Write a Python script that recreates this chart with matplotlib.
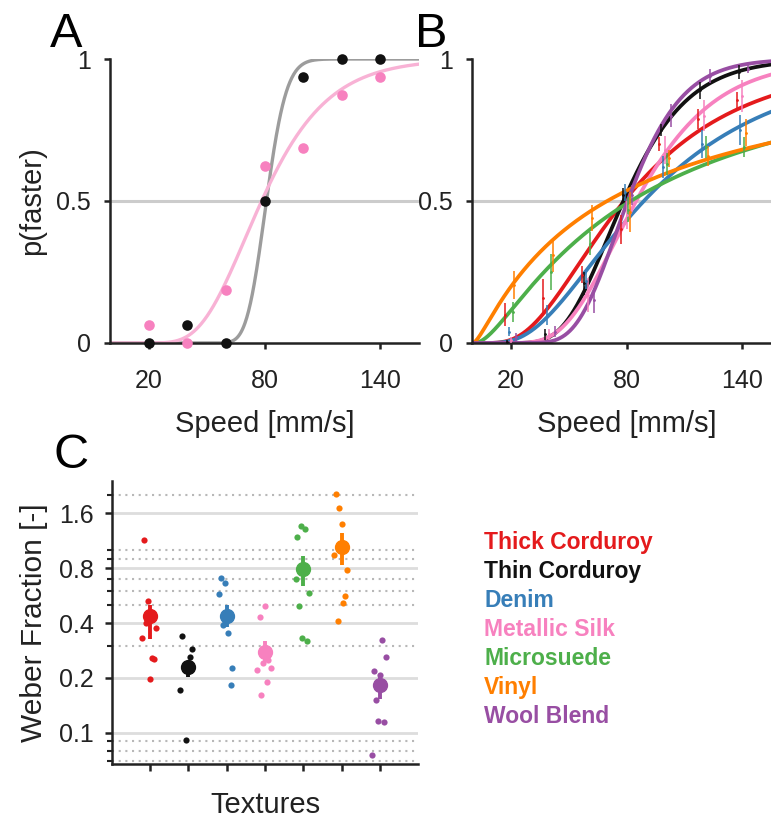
import math
import numpy as np
import matplotlib
matplotlib.use("Agg")
import matplotlib.pyplot as plt

plt.rcParams["font.family"] = ["Liberation Sans", "DejaVu Sans"]

# ====== DATA ======
textures = ["Thick Corduroy", "Thin Corduroy", "Denim", "Metallic Silk",
            "Microsuede", "Vinyl", "Wool Blend"]
tex_colors = ["#e41a1c", "#111111", "#377eb8", "#f781bf",
              "#4daf4a", "#ff7f00", "#984ea3"]

speeds = [20, 40, 60, 80, 100, 120, 140]

# panel A: single subject, two textures
a_black = [0.0, 0.0625, 0.0, 0.5, 0.9375, 1.0, 1.0]
a_pink = [0.0625, 0.0, 0.1875, 0.625, 0.6875, 0.875, 0.9375]
a_black_fit = (81.0, 0.10)    # (PSE, sigma of log-normal)
a_pink_fit = (78.5, 0.34)

# panel B: group mean p(faster) and half error bar per texture
b_mean = [
    [0.10, 0.16, 0.24, 0.40, 0.70, 0.79, 0.855],
    [0.005, 0.03, 0.21, 0.52, 0.75, 0.89, 0.955],
    [0.04, 0.10, 0.22, 0.53, 0.62, 0.70, 0.75],
    [0.01, 0.03, 0.17, 0.45, 0.68, 0.80, 0.87],
    [0.11, 0.25, 0.35, 0.47, 0.63, 0.69, 0.69],
    [0.205, 0.31, 0.44, 0.46, 0.65, 0.66, 0.74],
    [0.02, 0.04, 0.15, 0.52, 0.80, 0.94, 0.965],
]
b_err = [
    [0.04, 0.065, 0.03, 0.05, 0.025, 0.035, 0.03],
    [0.005, 0.02, 0.04, 0.025, 0.02, 0.03, 0.025],
    [0.017, 0.035, 0.03, 0.03, 0.04, 0.05, 0.053],
    [0.01, 0.02, 0.06, 0.05, 0.05, 0.055, 0.057],
    [0.035, 0.065, 0.04, 0.045, 0.04, 0.04, 0.035],
    [0.05, 0.06, 0.045, 0.07, 0.03, 0.035, 0.047],
    [0.015, 0.02, 0.045, 0.035, 0.04, 0.025, 0.015],
]
b_pse = [78.8, 78.4, 89.0, 85.0, 82.2, 70.0, 80.6]
b_sigma = [0.60, 0.33, 0.62, 0.375, 1.17, 1.47, 0.27]

# panel C: Weber fractions per subject
c_subjects = [
    [1.134, 0.526, 0.40, 0.374, 0.333, 0.258, 0.253, 0.197],
    [0.34, 0.287, 0.262, 0.22, 0.23, 0.226, 0.171, 0.092],
    [0.705, 0.659, 0.577, 0.40, 0.388, 0.351, 0.227, 0.182],
    [0.498, 0.43, 0.252, 0.243, 0.228, 0.222, 0.189, 0.161],
    [1.36, 1.31, 1.18, 0.70, 0.584, 0.493, 0.331, 0.319],
    [2.04, 1.71, 1.387, 0.939, 0.783, 0.565, 0.515, 0.409],
    [0.324, 0.262, 0.218, 0.209, 0.152, 0.117, 0.115, 0.0755],
]
c_jitter = [
    [-0.16, -0.04, -0.10, 0.15, -0.20, 0.04, 0.10, 0.0],
    [-0.16, 0.10, 0.04, -0.10, 0.10, 0.05, -0.21, -0.05],
    [-0.15, -0.04, -0.21, -0.05, -0.10, 0.04, 0.15, 0.10],
    [0.0, -0.14, 0.09, -0.04, 0.15, -0.21, 0.04, -0.10],
    [-0.06, 0.05, -0.16, -0.20, 0.15, -0.10, -0.03, 0.09],
    [-0.16, -0.06, 0.0, -0.21, 0.14, 0.10, 0.04, -0.10],
    [0.04, 0.15, -0.16, 0.0, -0.11, -0.06, 0.10, -0.21],
]
c_mean = [0.437, 0.229, 0.437, 0.279, 0.79, 1.04, 0.184]
c_lo = [0.328, 0.202, 0.38, 0.245, 0.635, 0.827, 0.154]
c_hi = [0.504, 0.245, 0.50, 0.319, 0.927, 1.25, 0.21]
# ==================

W, H = 771, 818
TXT = "#222222"
TICK_FS = 18
LABEL_FS = 21
_erf = np.vectorize(math.erf)


def lognorm_cdf(x, pse, sigma):
    z = np.log(x / pse) / sigma
    return 0.5 * (1 + _erf(z / math.sqrt(2)))


def px_axes(fig, left, top, right, bottom):
    return fig.add_axes([left / W, 1 - bottom / H, (right - left) / W, (bottom - top) / H])


def style_axes(ax, labelsize=TICK_FS):
    for s in ["top", "right"]:
        ax.spines[s].set_visible(False)
    for s in ["left", "bottom"]:
        ax.spines[s].set_linewidth(1.8)
        ax.spines[s].set_color(TXT)
    ax.tick_params(direction="out", length=4, width=1.8, color=TXT,
                   labelsize=labelsize, labelcolor=TXT)


def psycho_axes(ax, ylabel=True):
    style_axes(ax)
    ax.set_xlim(0, 160)
    ax.set_ylim(0, 1)
    ax.set_xticks([20, 80, 140])
    ax.set_yticks([0, 0.5, 1])
    ax.set_yticklabels(["0", "0.5", "1"])
    ax.tick_params(axis="x", pad=15)
    ax.tick_params(axis="y", pad=10)
    ax.axhline(0.5, color="#cccccc", lw=2.2, zorder=0)
    ax.set_xlabel("Speed [mm/s]", fontsize=LABEL_FS, color=TXT, labelpad=12)
    if ylabel:
        ax.set_ylabel("p(faster)", fontsize=LABEL_FS, color=TXT, labelpad=7)


fig = plt.figure(figsize=(W / 100, H / 100), dpi=100)

# ---- panel A ----
axA = px_axes(fig, 110, 59, 419, 343)
psycho_axes(axA)
xs = np.linspace(0.5, 160, 500)
axA.plot(xs, lognorm_cdf(xs, *a_black_fit), color="#9c9c9c", lw=2.4, zorder=2)
axA.plot(xs, lognorm_cdf(xs, *a_pink_fit), color="#f8b2d5", lw=2.4, zorder=2)
axA.scatter(speeds, a_pink, s=58, color="#f781bf", zorder=3, clip_on=False, lw=0)
axA.scatter(speeds, a_black, s=58, color="#111111", zorder=4, clip_on=False, lw=0)

# ---- panel B ----
axB = px_axes(fig, 472, 59, 781, 343)
psycho_axes(axB, ylabel=False)
offsets = np.arange(len(textures)) - 3
for i, col in enumerate(tex_colors):
    axB.plot(xs, lognorm_cdf(xs, b_pse[i], b_sigma[i]), color=col, lw=2.7, zorder=2)
for i, col in enumerate(tex_colors):
    axB.errorbar(np.array(speeds) + offsets[i], b_mean[i], yerr=b_err[i], fmt=".",
                 ms=2, color=col, elinewidth=1.1, capsize=0, zorder=3)

# ---- panel C ----
axC = px_axes(fig, 111.7, 480.7, 418.3, 764.3)
style_axes(axC)
axC.set_yscale("log")
axC.set_ylim(0.0674, 2.404)
axC.set_xlim(0, 8)
axC.set_yticks([0.1, 0.2, 0.4, 0.8, 1.6])
axC.set_yticklabels(["0.1", "0.2", "0.4", "0.8", "1.6"])
axC.set_yticks([0.07, 0.08, 0.09, 0.3, 0.5, 0.6, 0.7, 0.9, 1.0, 2.0], minor=True)
axC.yaxis.set_minor_formatter(plt.NullFormatter())
axC.tick_params(axis="y", which="major", length=5, pad=8)
axC.tick_params(axis="y", which="minor", length=3.5, width=1.5, color=TXT)
axC.set_xticks(np.arange(1, len(textures) + 1))
axC.set_xticklabels([])
axC.tick_params(axis="x", length=5)
axC.grid(axis="y", which="major", color="#dddddd", lw=2.0, zorder=0)
axC.grid(axis="y", which="minor", color="#b8b8b8", lw=1.5, linestyle=(0, (1, 2.2)), zorder=0)
axC.set_axisbelow(True)
axC.set_ylabel("Weber Fraction [-]", fontsize=LABEL_FS + 0.5, color=TXT, labelpad=8)
axC.set_xlabel("Textures", fontsize=LABEL_FS, color=TXT, labelpad=11)

for i, col in enumerate(tex_colors):
    pos = i + 1
    axC.scatter(pos + np.array(c_jitter[i]), c_subjects[i], s=20, color=col, lw=0, zorder=3)
    axC.errorbar([pos], [c_mean[i]], yerr=[[c_mean[i] - c_lo[i]], [c_hi[i] - c_mean[i]]],
                 fmt="o", ms=10, color=col, elinewidth=2.8, capsize=0, zorder=4)

# ---- legend as coloured text ----
for i, (name, col) in enumerate(zip(textures, tex_colors)):
    fig.text(484 / W, 1 - (549.3 + i * 28.9) / H, name, color=col, fontsize=16.5,
             fontweight="bold", va="baseline", ha="left")

# ---- panel letters ----
for letter, x, y in [("A", 50, 46.7), ("B", 415, 46.7), ("C", 53, 468)]:
    fig.text(x / W, 1 - y / H, letter, fontsize=35, color="black", va="baseline", ha="left")

fig.savefig("out.png", dpi=100)
